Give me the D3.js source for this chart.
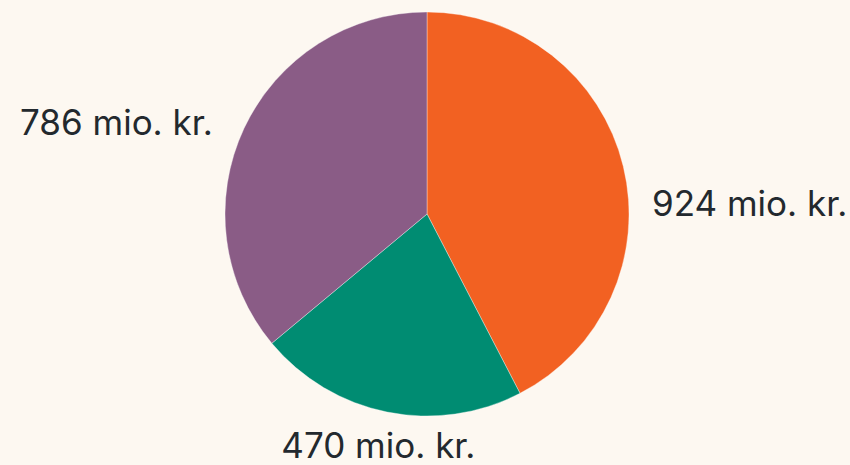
<!DOCTYPE html>
<html><head><meta charset="utf-8">
<script src="https://cdn.jsdelivr.net/npm/d3@7"></script>
<style>
html,body{margin:0;padding:0;background:#FDF8F1;}
svg{display:block;}
</style></head>
<body>
<svg id="chart" width="850" height="465"></svg>
<script>
const categories = ["A", "B", "C"];
const values = [924, 470, 786];
const labels = ["924 mio. kr.", "470 mio. kr.", "786 mio. kr."];
const colors = ["#F26122", "#008C72", "#8A5C86"];

const W = 850, H = 465;
const cx = 427, cy = 214, R = 202;
const svg = d3.select("#chart");
svg.append("rect").attr("width", W).attr("height", H).attr("fill", "#FDF8F1");
const g = svg.append("g").attr("transform", `translate(${cx},${cy})`);
const pie = d3.pie().sort(null).value(d => d)(values);
const arc = d3.arc().innerRadius(0).outerRadius(R);
g.selectAll("path.slice").data(pie).enter().append("path")
  .attr("class", "slice")
  .attr("d", arc)
  .attr("fill", (d, i) => colors[i])
  .attr("stroke", "rgba(255,255,255,0.35)")
  .attr("stroke-width", 1);

const LR = R + 29;
const dxAdj = [0, -3, -5];
const dyAdj = [47, 8, 9];
g.selectAll("text.lbl").data(pie).enter().append("text")
  .attr("class", "lbl")
  .each(function(d, i) {
    const a = (d.startAngle + d.endAngle) / 2;
    const x = Math.sin(a) * LR, y = -Math.cos(a) * LR;
    const s = Math.sin(a);
    const anchor = s > 0.5 ? "start" : (s < -0.5 ? "end" : "middle");
    d3.select(this).attr("x", (i === 0 ? Math.max(x, R + 23) : x) + dxAdj[i])
      .attr("y", y + dyAdj[i])
      .attr("text-anchor", anchor)
      .attr("dominant-baseline", "middle");
  })
  .attr("font-family", "Inter, 'Open Sans', sans-serif")
  .attr("font-size", 35)
  .attr("fill", "#23292E")
  .text((d, i) => labels[i]);
</script>
</body></html>
